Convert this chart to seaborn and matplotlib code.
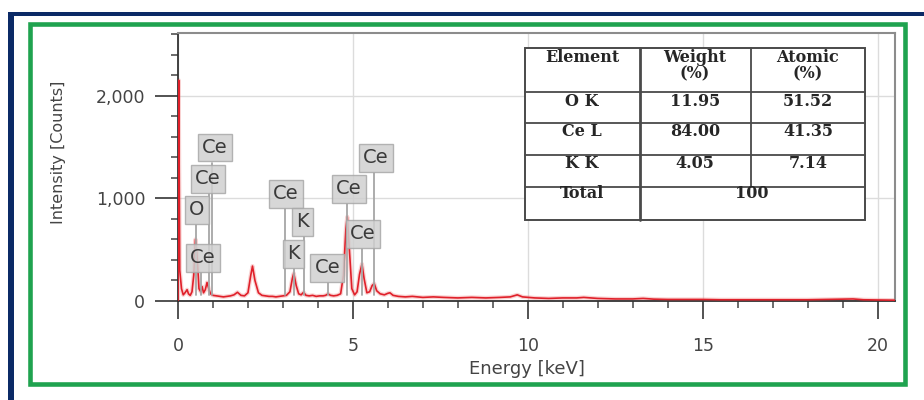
import matplotlib
matplotlib.use("Agg")
import matplotlib.pyplot as plt
import seaborn as sns
import pandas as pd
from matplotlib.patches import Rectangle
from matplotlib.lines import Line2D
from matplotlib.ticker import MultipleLocator, FuncFormatter

# EDS spectrum (energy in keV, intensity in counts)
energy_kev = [
    0.00, 0.02, 0.05, 0.10, 0.15, 0.20, 0.26, 0.30, 0.35, 0.40, 0.45, 0.50,
    0.55, 0.60, 0.65, 0.69, 0.73, 0.78, 0.83, 0.88, 0.93, 1.00, 1.10, 1.20,
    1.30, 1.40, 1.50, 1.60, 1.70, 1.80, 1.90, 2.00, 2.08, 2.13, 2.20, 2.30,
    2.40, 2.50, 2.60, 2.70, 2.80, 2.90, 3.00, 3.10, 3.20, 3.27, 3.31, 3.38,
    3.45, 3.52, 3.59, 3.66, 3.75, 3.85, 3.95, 4.05, 4.15, 4.22, 4.29, 4.36,
    4.45, 4.55, 4.65, 4.73, 4.80, 4.84, 4.90, 4.97, 5.05, 5.12, 5.19, 5.26,
    5.32, 5.40, 5.48, 5.55, 5.61, 5.68, 5.78, 5.90, 6.00, 6.06, 6.15, 6.30,
    6.50, 6.70, 7.00, 7.30, 7.60, 8.00, 8.40, 8.80, 9.20, 9.50, 9.70, 9.85,
    10.2, 10.6, 11.0, 11.4, 11.6, 12.0, 12.5, 13.0, 13.3, 13.6, 14.0, 14.5,
    15.0, 15.5, 16.0, 16.5, 17.0, 17.5, 18.0, 18.5, 19.0, 19.3, 19.6, 20.0,
    20.5,
]
intensity_counts = [
    0, 2150, 300, 120, 60, 80, 110, 70, 55, 90, 250, 600,
    420, 120, 90, 140, 80, 110, 180, 120, 70, 55, 50, 45,
    40, 45, 50, 60, 85, 55, 50, 80, 250, 340, 200, 80,
    55, 50, 45, 45, 40, 45, 50, 55, 90, 220, 270, 150,
    70, 60, 85, 55, 50, 55, 45, 50, 50, 55, 70, 55,
    50, 55, 70, 250, 700, 820, 500, 120, 60, 90, 260, 360,
    220, 80, 90, 150, 170, 100, 70, 60, 75, 80, 55, 45,
    40, 45, 35, 40, 35, 30, 35, 30, 35, 40, 60, 40,
    30, 25, 30, 30, 35, 25, 20, 20, 25, 18, 15, 15,
    15, 12, 12, 12, 12, 12, 12, 15, 18, 20, 12, 10,
    8,
]

# Peak identification labels and the line energy each one marks
peak_labels = ["Ce", "Ce", "O", "Ce", "Ce", "K", "K", "Ce", "Ce", "Ce", "Ce"]
peak_energy = [0.97, 0.88, 0.52, 0.66, 3.05, 3.59, 3.31, 4.29, 4.84, 5.61, 5.26]

# Quantification table
table_header = ["Element", "Weight", "Atomic"]
table_unit = "(%)"
table_elements = ["O K", "Ce L", "K K"]
weight_pct = ["11.95", "84.00", "4.05"]
atomic_pct = ["51.52", "41.35", "7.14"]
total_label = "Total"
total_value = "100"

# Layout: where each label box sits (data coordinates)
label_pos = [(1.06, 1493), (0.86, 1190), (0.54, 888), (0.71, 420),
             (3.09, 1044), (3.55, 770), (3.31, 459), (4.27, 322),
             (4.89, 1093), (5.66, 1395), (5.29, 654)]

sns.set_theme(style="white")
plt.rcParams["font.family"] = ["DejaVu Sans"]

W, H = 924, 400
fig = plt.figure(figsize=(W / 100, H / 100), dpi=100)
fig.patch.set_facecolor("white")


def fx(px):
    return px / W


def fy(py):
    return 1 - py / H


ax = fig.add_axes([fx(178), fy(301), (895 - 178) / W, (301 - 33) / H])
ax.set_facecolor("white")

df = pd.DataFrame({"energy": energy_kev, "counts": intensity_counts})
sns.lineplot(data=df, x="energy", y="counts", ax=ax, color="#f08080",
             lw=3.0, alpha=0.35, estimator=None, zorder=2)
sns.lineplot(data=df, x="energy", y="counts", ax=ax, color="#e0202a",
             lw=1.2, estimator=None, zorder=3)

ax.set_xlim(0, 20.5)
ax.set_ylim(0, 2610)
ax.set_xlabel("")
ax.set_ylabel("")

ax.xaxis.set_major_locator(MultipleLocator(5))
ax.xaxis.set_minor_locator(MultipleLocator(1))
ax.yaxis.set_major_locator(MultipleLocator(1000))
ax.yaxis.set_minor_locator(MultipleLocator(200))
ax.yaxis.set_major_formatter(FuncFormatter(lambda v, p: f"{v:,.0f}"))

ax.grid(True, which="major", color="#dcdcdc", lw=1.0)
ax.set_axisbelow(True)

ax.tick_params(axis="x", which="major", bottom=True, length=13, width=1.3,
               direction="out", color="#444444", pad=13, labelsize=12.5,
               labelcolor="#444444")
ax.tick_params(axis="x", which="minor", bottom=True, length=5, width=1.1,
               direction="out", color="#444444")
ax.tick_params(axis="y", which="major", left=True, length=16.5, width=1.3,
               direction="out", color="#444444", pad=7, labelsize=12.5,
               labelcolor="#444444")
ax.tick_params(axis="y", which="minor", left=True, length=5, width=1.1,
               direction="out", color="#444444")

for side in ["top", "right"]:
    ax.spines[side].set_color("#8c8c8c")
    ax.spines[side].set_linewidth(1.5)
for side in ["left", "bottom"]:
    ax.spines[side].set_color("#333333")
    ax.spines[side].set_linewidth(1.3)

# Peak label boxes with leader lines
box_half = 146
for lab, e, (lx, ly) in zip(peak_labels, peak_energy, label_pos):
    ax.plot([e, e], [60, ly - box_half], color="#a6a6a6", lw=1.3, zorder=4)
    ax.text(lx, ly, lab, ha="center", va="center", fontsize=14,
            color="#3a3a3a", zorder=5,
            bbox=dict(boxstyle="square,pad=0.22", fc="#d0d0d0",
                      ec="#a8a8a8", lw=1.0, alpha=0.85))

# Axis titles
fig.text(fx(59), fy(152), "Intensity [Counts]", rotation=90, ha="center",
         va="center", fontsize=11.5, color="#444444")
fig.text(fx(527), fy(369), "Energy [keV]", ha="center", va="center",
         fontsize=13, color="#444444")

# Quantification table drawn in figure pixels
tx0, tx1, ty0, ty1 = 525, 865, 48, 220
col_x = [640, 751]
row_y = [92, 123, 155, 187]
fig.add_artist(Rectangle((fx(tx0), fy(ty1)), (tx1 - tx0) / W, (ty1 - ty0) / H,
                         transform=fig.transFigure, fc="white", ec="#4a4a4a",
                         lw=1.4, zorder=5))
for ry in row_y:
    fig.add_artist(Line2D([fx(tx0), fx(tx1)], [fy(ry), fy(ry)],
                          transform=fig.transFigure, color="#4a4a4a",
                          lw=1.3, zorder=6))
fig.add_artist(Line2D([fx(col_x[0]), fx(col_x[0])], [fy(ty0), fy(ty1)],
                      transform=fig.transFigure, color="#4a4a4a", lw=2.0,
                      zorder=6))
fig.add_artist(Line2D([fx(col_x[1]), fx(col_x[1])], [fy(ty0), fy(row_y[3])],
                      transform=fig.transFigure, color="#4a4a4a", lw=1.3,
                      zorder=6))

tkw = dict(ha="center", va="center", family="DejaVu Serif", weight="bold",
           fontsize=11.5, color="#262626", zorder=7)
col_c = [582, 695, 808]
fig.text(fx(col_c[0]), fy(58), table_header[0], **tkw)
for c, hdr in zip(col_c[1:], table_header[1:]):
    fig.text(fx(c), fy(58), hdr, **tkw)
    fig.text(fx(c), fy(74), table_unit, **tkw)
for el, w, a, yy in zip(table_elements, weight_pct, atomic_pct, [101, 132, 163]):
    fig.text(fx(col_c[0]), fy(yy), el, **tkw)
    fig.text(fx(col_c[1]), fy(yy), w, **tkw)
    fig.text(fx(col_c[2]), fy(yy), a, **tkw)
fig.text(fx(col_c[0]), fy(194), total_label, **tkw)
fig.text(fx(752), fy(194), total_value, **tkw)

# Frames around the figure
navy = "#0b2a66"
fig.add_artist(Rectangle((fx(8), fy(16)), (W - 8) / W, 4 / H,
                         transform=fig.transFigure, fc=navy, ec="none",
                         zorder=8))
fig.add_artist(Rectangle((fx(8), 0), 6 / W, fy(12),
                         transform=fig.transFigure, fc=navy, ec="none",
                         zorder=8))
fig.add_artist(Rectangle((fx(30), fy(384)), (905 - 30) / W, (384 - 24) / H,
                         transform=fig.transFigure, fill=False,
                         ec="#1fa34f", lw=3.3, zorder=8))

fig.savefig("out.png", dpi=100, facecolor="white")
